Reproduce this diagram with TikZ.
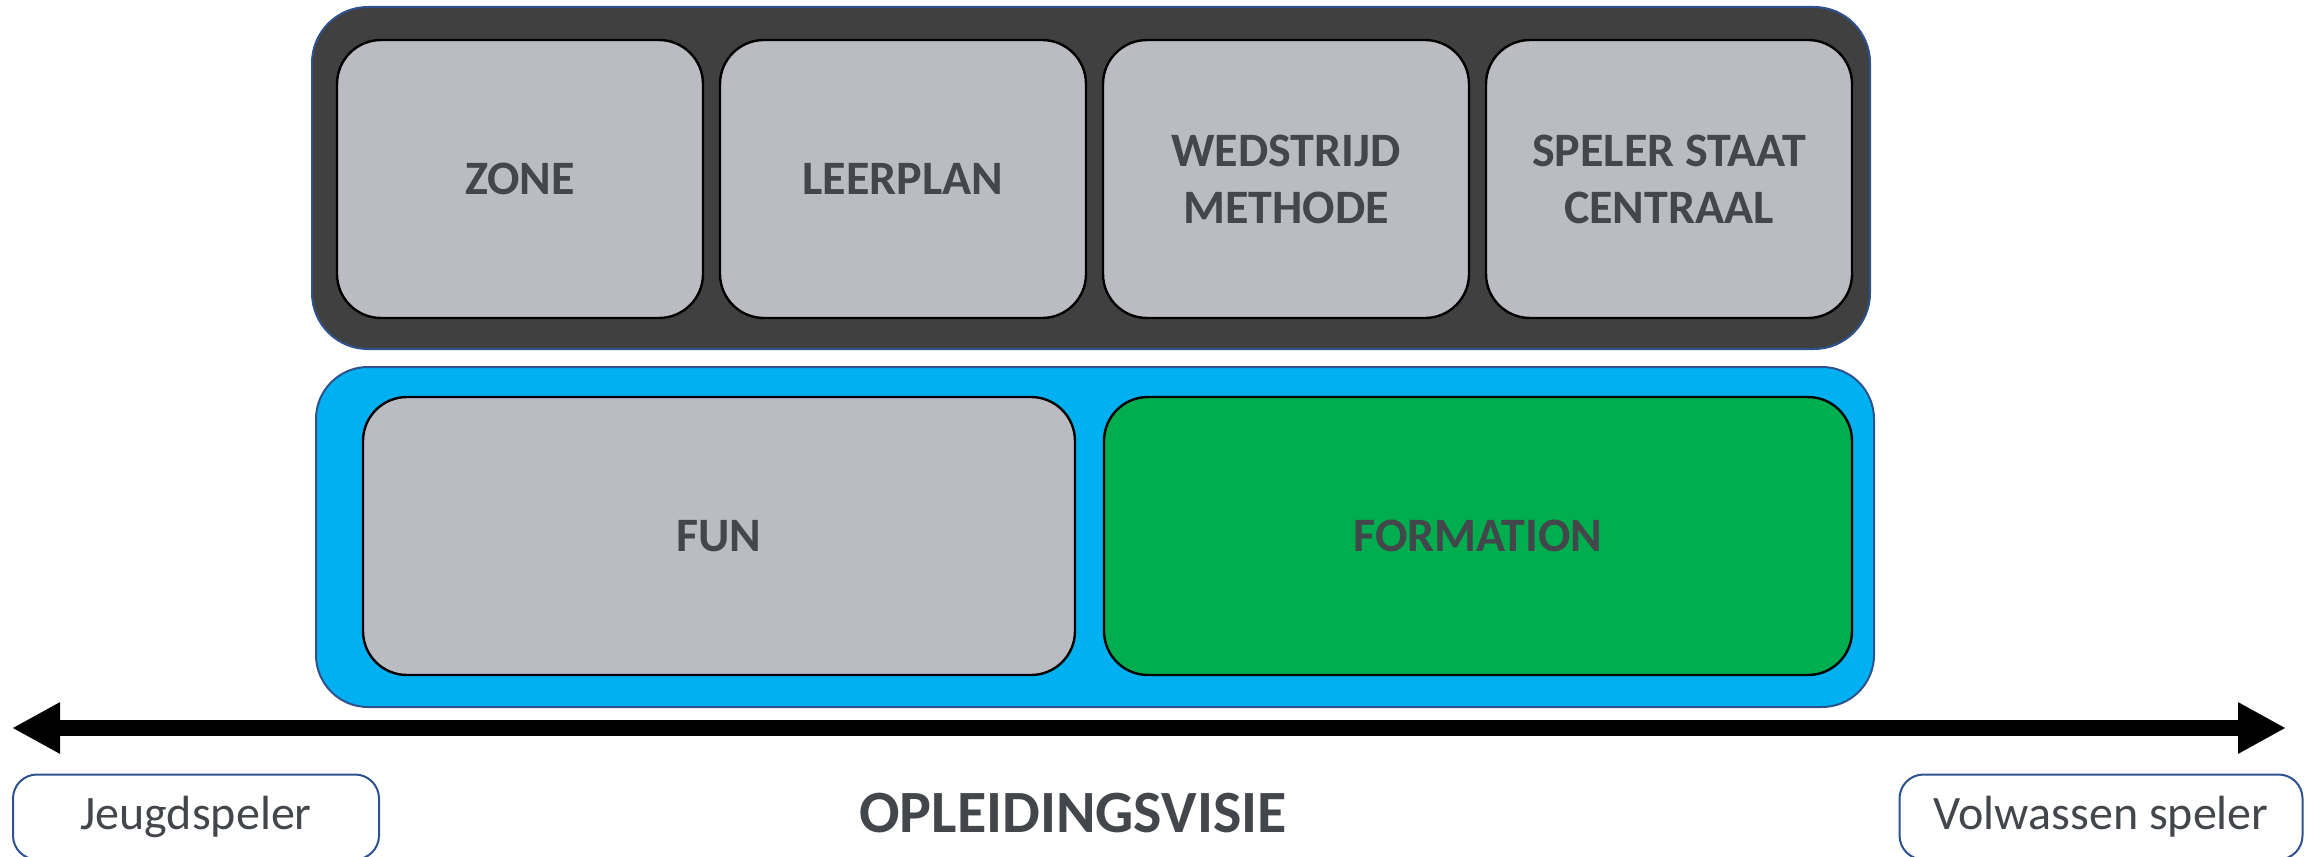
\documentclass[tikz,border=0pt]{standalone}
\usepackage{fontspec}
\setmainfont{Carlito}
\usetikzlibrary{arrows.meta}
\definecolor{txt}{HTML}{43464A}
\definecolor{darkbg}{HTML}{404040}
\definecolor{edgeblue}{HTML}{2F528F}
\definecolor{grayfill}{HTML}{BBBCC1}
\definecolor{skyblue}{HTML}{00B0F0}
\definecolor{greenfill}{HTML}{00AD4F}
\tikzset{
  outerbox/.style={draw=edgeblue, line width=1pt, rounded corners=28pt, inner sep=0pt},
  gbox/.style={draw=black, line width=1.2pt, fill=grayfill, rounded corners=22pt,
    minimum height=139pt, inner sep=0pt, align=center, text=txt,
    font=\bfseries\fontsize{24}{28.5}\selectfont},
  labelbox/.style={draw=edgeblue, line width=1pt, fill=white, rounded corners=12pt,
    minimum height=42.5pt, inner sep=0pt, text=txt, font=\fontsize{24}{28}\selectfont},
}
\begin{document}
\begin{tikzpicture}[x=0.5pt,y=-0.5pt]
\useasboundingbox (0,0) rectangle (2305,856);
% top dark panel
\node[outerbox, fill=darkbg, minimum width=779pt, minimum height=171pt] (top) at (1091,178) {};
\node[gbox, minimum width=183pt] (zone) at (520,179) {ZONE};
\node[gbox, minimum width=183pt] (leer) at (903,179) {LEERPLAN};
\node[gbox, minimum width=183pt] (wed) at (1286,179) {WEDSTRIJD\\METHODE};
\node[gbox, minimum width=183pt] (spel) at (1669,179) {SPELER STAAT\\CENTRAAL};
% blue panel
\node[outerbox, fill=skyblue, rounded corners=26pt, minimum width=779pt, minimum height=170pt] (mid) at (1095,537) {};
\node[gbox, minimum width=356pt] (fun) at (719,536) {FUN};
\node[gbox, fill=greenfill, minimum width=374pt] (form) at (1478,536) {FORMATION};
% arrow
\coordinate (L) at (12,728);
\coordinate (R) at (2286,728);
\draw[line width=8pt, {Triangle[length=24pt,width=24pt]}-{Triangle[length=24pt,width=24pt]}] (L) -- (R);
% bottom labels
\node[labelbox, minimum width=183pt] (jeugd) at (196,817) {Jeugdspeler};
\node[labelbox, minimum width=201.5pt] (volw) at (2101,817) {Volwassen speler};
\node[text=txt, font=\bfseries\fontsize{30}{34}\selectfont] (visie) at (1073,813) {OPLEIDINGSVISIE};
\end{tikzpicture}
\end{document}
